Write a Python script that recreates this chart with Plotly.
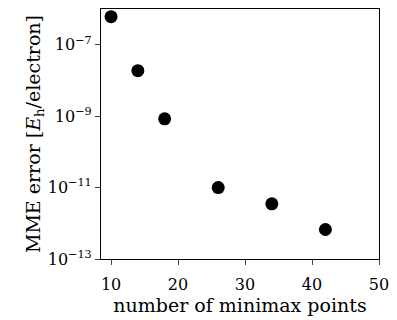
import plotly.graph_objects as go

n_points = [10, 14, 18, 26, 34, 42]
mme_error = [6.1e-7, 1.87e-8, 8.4e-10, 1.0e-11, 3.5e-12, 6.7e-13]
x_ticks = [10, 20, 30, 40, 50]
y_ticks = [1e-13, 1e-11, 1e-9, 1e-7]
y_tick_text = ["10<sup>−13</sup>", "10<sup>−11</sup>", "10<sup>−9</sup>", "10<sup>−7</sup>"]

font = dict(family="DejaVu Serif", size=16, color="black")

fig = go.Figure()
fig.add_trace(go.Scatter(
    x=n_points, y=mme_error, mode="markers",
    marker=dict(color="black", size=13, line=dict(width=0)),
    showlegend=False,
))
fig.update_layout(
    width=397, height=320,
    margin=dict(l=101, r=14, t=8, b=60),
    paper_bgcolor="white", plot_bgcolor="white",
    font=font,
)
fig.update_xaxes(
    range=[8.5, 50], tickvals=x_ticks, ticks="outside", ticklen=5, tickwidth=1.2,
    ticklabelstandoff=6,
    showline=True, linecolor="black", linewidth=1.2, mirror=True, showgrid=False,
    zeroline=False, title=dict(text="number of minimax points", standoff=4),
    tickfont=font,
)
fig.update_yaxes(
    type="log", range=[-13, -6], tickvals=y_ticks, ticktext=y_tick_text,
    ticks="outside", ticklen=5, tickwidth=1.2,
    showline=True, linecolor="black", linewidth=1.2, mirror=True, showgrid=False,
    zeroline=False, title=dict(text="MME error [<i>E</i><sub>h</sub>/electron]", standoff=2),
    tickfont=font,
)
fig.write_html("out.html")
